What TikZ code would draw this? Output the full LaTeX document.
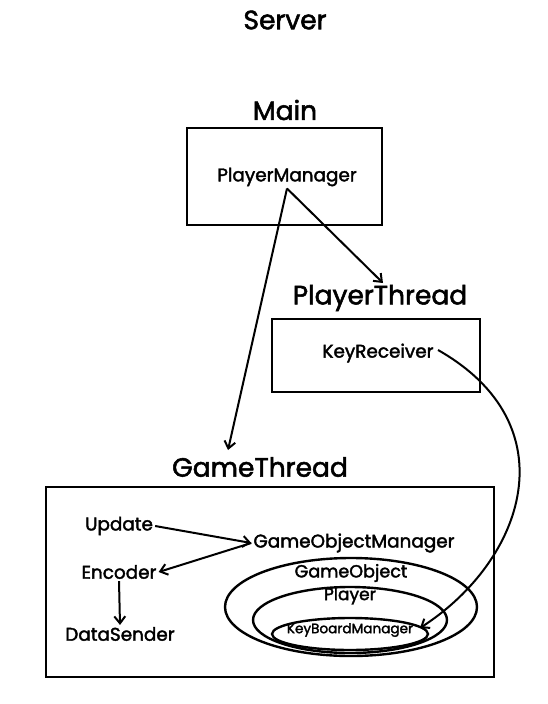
\documentclass[tikz,border=0pt]{standalone}
\usepackage{fontspec}
\setmainfont{Poppins}[FakeBold=2]
\usetikzlibrary{shapes.geometric,arrows.meta}
\begin{document}
\begin{tikzpicture}[x=1pt,y=-1pt,
  title/.style={font=\fontsize{26.5}{28}\selectfont, inner sep=1pt},
  lbl/.style={font=\fontsize{18.4}{20}\selectfont, inner sep=2pt},
  small/.style={font=\fontsize{13.6}{15}\selectfont, inner sep=1pt},
  box/.style={draw, line width=2.4pt},
  ring/.style={draw, ellipse, line width=2.4pt, inner sep=0pt},
  conn/.style={line width=2pt, -{Straight Barb[length=7pt,width=11pt,line width=2pt]}}]
\useasboundingbox (0,0) rectangle (548,704);
% titles
\node[title] (server) at (285,20) {Server};
\node[title] (mainlbl) at (285,110) {Main};
\node[title] (ptlbl) at (380,298) {PlayerThread};
\node[title] (gtlbl) at (260,467) {GameThread};
% boxes
\node[box, minimum width=195, minimum height=97] (mainbox) at (284.5,176.5) {};
\node[box, minimum width=208, minimum height=73] (ptbox) at (376,355.5) {};
\node[box, minimum width=448, minimum height=190] (gtbox) at (270,582) {};
% inner labels
\node[lbl] (pm) at (287,177) {PlayerManager};
\node[lbl] (kr) at (378,353) {KeyReceiver};
\node[lbl] (upd) at (119,526) {Update};
\node[lbl] (gom) at (354,543) {GameObjectManager};
\node[lbl] (enc) at (119,572) {Encoder};
\node[lbl] (ds) at (120,634) {DataSender};
% ellipses
\node[ring, minimum width=252, minimum height=98] (goell) at (351,607) {};
\node[ring, minimum width=194, minimum height=66] (plell) at (350,620) {};
\node[ring, minimum width=156, minimum height=32] (kbell) at (350,634) {};
\node[lbl, font=\fontsize{17.6}{19}\selectfont] (golbl) at (351,573) {GameObject};
\node[lbl, font=\fontsize{17}{18}\selectfont] (pllbl) at (350,596) {Player};
\node[small] (kbm) at (350,630) {KeyBoardManager};
% connector endpoints
\coordinate (gtin) at (228,450);
\coordinate (ptin) at (383,283);
\coordinate (krout) at (438,350);
\coordinate (kbin) at (420,628);
% connectors
\draw[conn] (pm.south) -- (gtin);
\draw[conn] (pm.south) -- (ptin);
\draw[conn] (krout) .. controls (570,425) and (525,560) .. (kbin);
\draw[conn] (upd.east) -- (gom.west);
\draw[conn] (gom.west) -- (enc.east);
\draw[conn] (enc.south) -- (ds.north);
\end{tikzpicture}
\end{document}
